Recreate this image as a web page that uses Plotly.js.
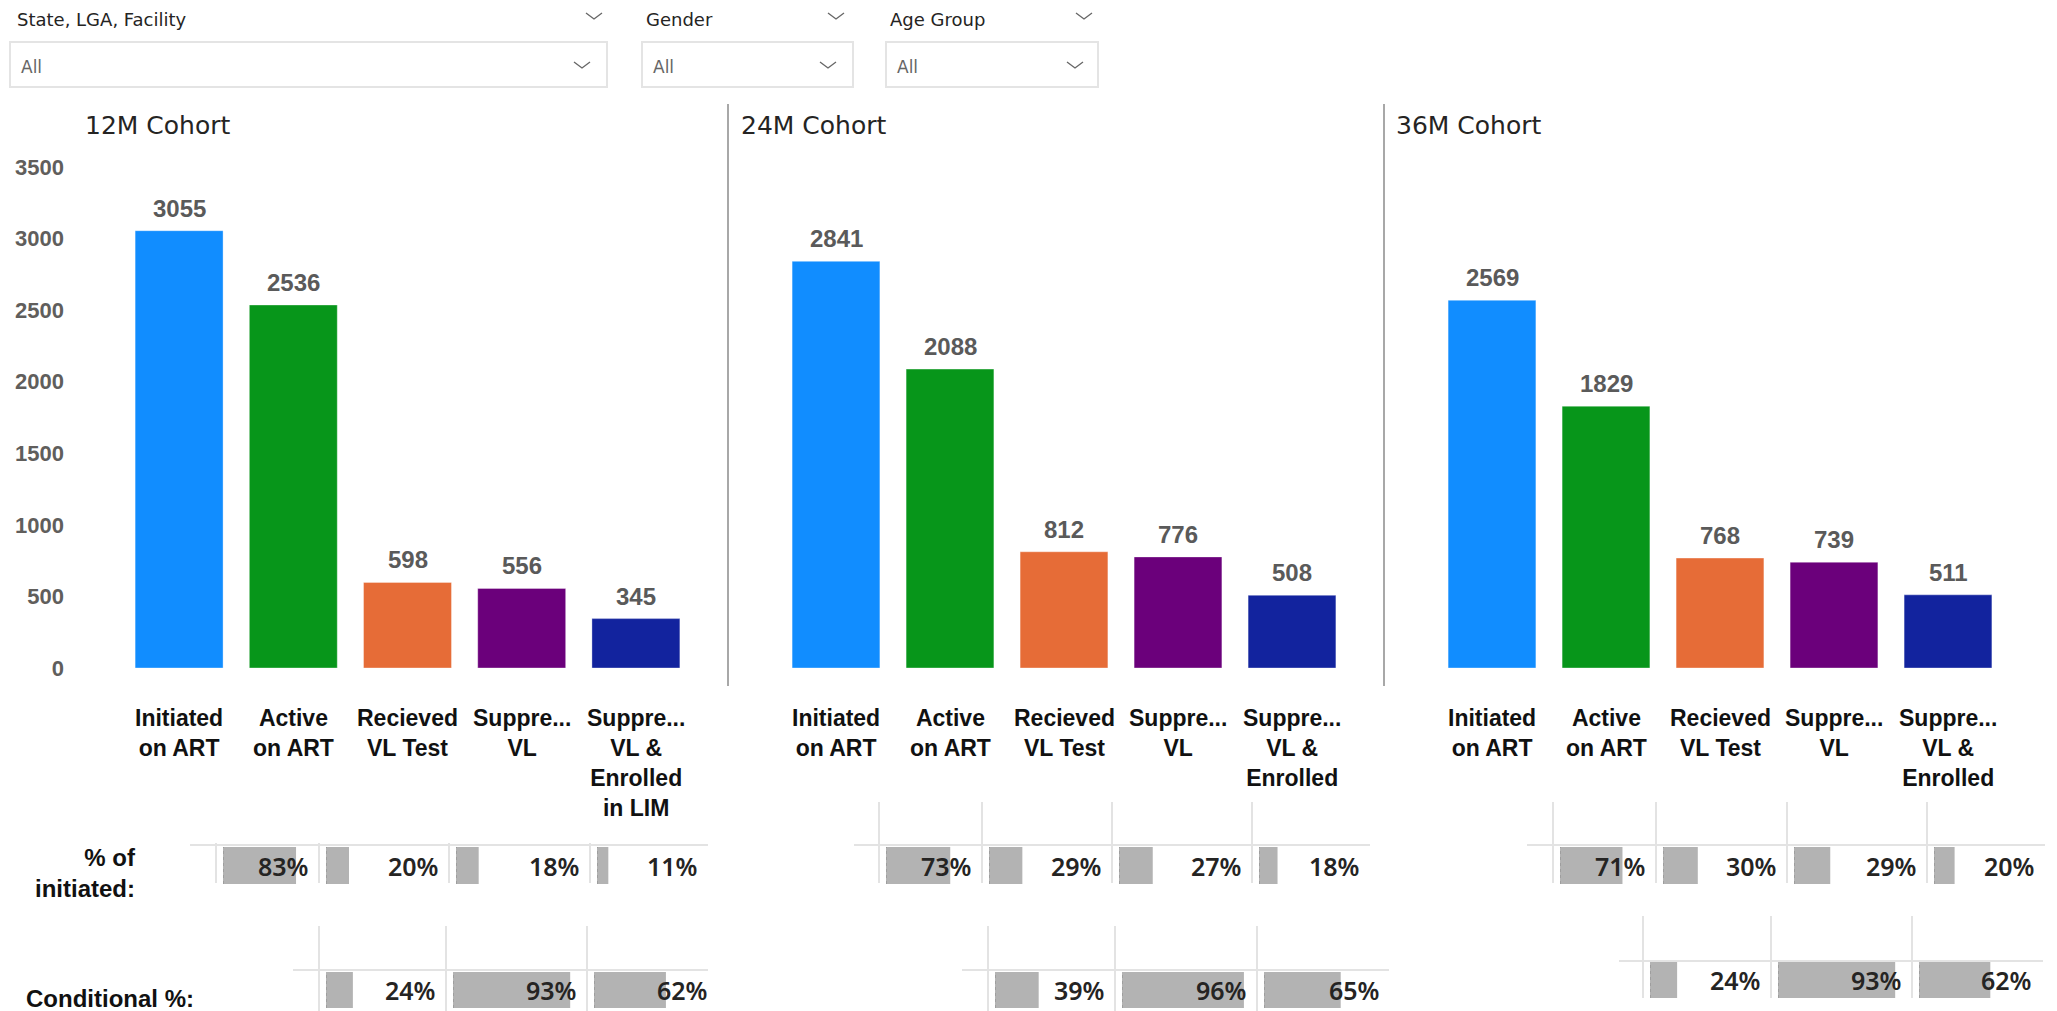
<!DOCTYPE html>
<html><head><meta charset="utf-8">
<script src="https://cdn.plot.ly/plotly-3.0.1.min.js"></script>
<style>html,body{margin:0;padding:0;background:#fff;overflow:hidden}#chart{width:2057px;height:1011px}</style>
</head><body><div id="chart"></div>
<script>
// ---------------- DATA ----------------
const stages = ["Initiated on ART","Active on ART","Recieved VL Test","Suppressed VL","Suppressed VL & Enrolled in LIM"];
const stageLabels12 = ["Initiated<br>on ART","Active<br>on ART","Recieved<br>VL Test","Suppre...<br>VL","Suppre...<br>VL &<br>Enrolled<br>in LIM"];
const stageLabels24 = ["Initiated<br>on ART","Active<br>on ART","Recieved<br>VL Test","Suppre...<br>VL","Suppre...<br>VL &<br>Enrolled"];
const stageLabels36 = ["Initiated<br>on ART","Active<br>on ART","Recieved<br>VL Test","Suppre...<br>VL","Suppre...<br>VL &<br>Enrolled"];
const cohortTitles = ["12M Cohort","24M Cohort","36M Cohort"];
const values12 = [3055, 2536, 598, 556, 345];
const values24 = [2841, 2088, 812, 776, 508];
const values36 = [2569, 1829, 768, 739, 511];
const pctOfInitiated12 = [0.83, 0.20, 0.18, 0.11];
const pctOfInitiated24 = [0.73, 0.29, 0.27, 0.18];
const pctOfInitiated36 = [0.71, 0.30, 0.29, 0.20];
const conditional12 = [0.24, 0.93, 0.62];
const conditional24 = [0.39, 0.96, 0.65];
const conditional36 = [0.24, 0.93, 0.62];
const yTickVals = [0, 500, 1000, 1500, 2000, 2500, 3000, 3500];
const rowLabelPct = "% of<br>initiated:";
const rowLabelCond = "Conditional %:";
const filterLabels = ["State, LGA, Facility", "Gender", "Age Group"];
const filterValues = ["All", "All", "All"];
const barColors = ["#118DFF", "#07961A", "#E66C37", "#6B007B", "#12239E"];

// ---------------- LAYOUT HELPERS ----------------
const W = 2057, H = 1011;
const px = x => x / W;
const py = y => 1 - y / H;

const panels = [
  {labels: stageLabels12, values: values12, pct: pctOfInitiated12, cond: conditional12, title: cohortTitles[0],
   xDom: [122, 693], titleX: 83, showY: true,
   pctCells: [[216,319],[319,449],[449,590],[590,708]], pctBar: [847,884], pctLine: [190,708,845], pctV: [216,319,449,590], pctVY: [843,883],
   condCells: [[319,446],[446,587],[587,718]], condBar: [972,1008], condLine: [293,708,970], condV: [319,446,587], condVY: [926,1011]},
  {labels: stageLabels24, values: values24, pct: pctOfInitiated24, cond: conditional24, title: cohortTitles[1],
   xDom: [779, 1349], titleX: 739, showY: false,
   pctCells: [[879,982],[982,1112],[1112,1252],[1252,1370]], pctBar: [847,884], pctLine: [854,1370,845], pctV: [879,982,1112,1252], pctVY: [802,883],
   condCells: [[988,1115],[1115,1257],[1257,1390]], condBar: [972,1008], condLine: [962,1389,970], condV: [988,1115,1257], condVY: [926,1011]},
  {labels: stageLabels36, values: values36, pct: pctOfInitiated36, cond: conditional36, title: cohortTitles[2],
   xDom: [1435, 2005], titleX: 1394, showY: false,
   pctCells: [[1553,1656],[1656,1787],[1787,1927],[1927,2045]], pctBar: [847,884], pctLine: [1527,2045,845], pctV: [1553,1656,1787,1927], pctVY: [802,883],
   condCells: [[1643,1771],[1771,1912],[1912,2042]], condBar: [962,998], condLine: [1619,2043,961], condV: [1643,1771,1912], condVY: [916,998]}
];

const traces = [];
const layout = {
  width: W, height: H, margin: {l:0, r:0, t:0, b:0},
  paper_bgcolor: "#ffffff", plot_bgcolor: "rgba(0,0,0,0)",
  showlegend: false, annotations: [], shapes: [],
  font: {family: "Liberation Sans, Arial, sans-serif", color: "#252423"}
};
let axN = 0;
const axKey = (p, n) => n === 1 ? p + "axis" : p + "axis" + n;
const axRef = (p, n) => n === 1 ? p : p + n;

const TXT = "Liberation Sans, Arial, sans-serif";
const PCT = "Noto Sans, Open Sans, sans-serif";
const TITLE = "DejaVu Sans, sans-serif";
const GRID = "#e3e3e3";

function hline(x0, x1, y, color, w) {
  layout.shapes.push({type: "line", xref: "paper", yref: "paper", x0: px(x0), x1: px(x1), y0: py(y), y1: py(y), line: {color: color, width: w}});
}
function vline(x, y0, y1, color, w) {
  layout.shapes.push({type: "line", xref: "paper", yref: "paper", x0: px(x), x1: px(x), y0: py(y0), y1: py(y1), line: {color: color, width: w}});
}

function cell(value, cellRange, barRange) {
  axN += 1;
  const n = axN;
  layout[axKey("x", n)] = {domain: [px(cellRange[0] + 7), px(cellRange[1] - 8)], range: [0, 1], visible: false, fixedrange: true, anchor: axRef("y", n)};
  layout[axKey("y", n)] = {domain: [py(barRange[1]), py(barRange[0])], range: [-0.5, 0.5], visible: false, fixedrange: true, anchor: axRef("x", n)};
  traces.push({type: "bar", orientation: "h", x: [value], y: [0], width: 1, marker: {color: "#b3b3b3"},
    xaxis: axRef("x", n), yaxis: axRef("y", n), hoverinfo: "skip"});
  layout.shapes.push({type: "line", xref: axRef("x", n), yref: axRef("y", n) + " domain", x0: 0, x1: 0, y0: 0, y1: 1,
    line: {color: "#8a8a8a", width: 1, dash: "dot"}});
  layout.annotations.push({xref: axRef("x", n) + " domain", yref: axRef("y", n) + " domain", x: 1, y: 0.5, xanchor: "right", yanchor: "middle",
    xshift: -1, yshift: 0, text: Math.round(value * 100) + "%", showarrow: false, font: {family: PCT, size: 25, color: "#252423", weight: 600}});
}

panels.forEach((p, idx) => {
  axN += 1;
  const n = axN;
  layout[axKey("x", n)] = {domain: [px(p.xDom[0]), px(p.xDom[1])], type: "category", range: [-0.5, 4.5],
    showticklabels: false, showgrid: false, zeroline: false, showline: false, ticks: "", fixedrange: true, anchor: axRef("y", n)};
  const ya = {domain: [py(668), py(167)], range: [0, 3500], showgrid: false, zeroline: false, showline: false, ticks: "", fixedrange: true,
    tickvals: yTickVals, ticktext: yTickVals.map(String), showticklabels: p.showY,
    tickfont: {family: TXT, size: 22, color: "#605E5C", weight: "bold"}};
  if (p.showY) { ya.anchor = "free"; ya.position = px(64); } else { ya.anchor = axRef("x", n); }
  layout[axKey("y", n)] = ya;
  traces.push({type: "bar", x: stages, y: p.values, width: 0.77,
    marker: {color: barColors, line: {color: "rgba(255,255,255,0.35)", width: 1}},
    xaxis: axRef("x", n), yaxis: axRef("y", n), hoverinfo: "skip"});
  p.values.forEach((v, i) => {
    layout.annotations.push({xref: axRef("x", n), yref: axRef("y", n), x: stages[i], y: v, yanchor: "bottom", yshift: 7,
      text: String(v), showarrow: false, font: {family: TXT, size: 24, color: "#5a5a5a", weight: "bold"}});
    layout.annotations.push({xref: axRef("x", n), yref: "paper", x: stages[i], y: py(703), yanchor: "top",
      text: p.labels[i], showarrow: false, align: "center", font: {family: TXT, size: 23, color: "#111111", weight: "bold"}});
  });
  layout.annotations.push({xref: "paper", yref: "paper", x: px(p.titleX), y: py(126), xanchor: "left", yanchor: "middle",
    text: p.title, showarrow: false, font: {family: TITLE, size: 25, color: "#252423"}});

  // table grid
  hline(p.pctLine[0], p.pctLine[1], p.pctLine[2], GRID, 2);
  p.pctV.forEach(x => vline(x, p.pctVY[0], p.pctVY[1], GRID, 2));
  hline(p.condLine[0], p.condLine[1], p.condLine[2], GRID, 2);
  p.condV.forEach(x => vline(x, p.condVY[0], p.condVY[1], GRID, 2));

  p.pct.forEach((v, i) => cell(v, p.pctCells[i], p.pctBar));
  p.cond.forEach((v, i) => cell(v, p.condCells[i], p.condBar));
});

// separators between cohorts
vline(728, 104, 686, "#a8a8a8", 2);
vline(1384, 104, 686, "#a8a8a8", 2);

// row labels
layout.annotations.push({xref: "paper", yref: "paper", x: px(138), y: py(873), xanchor: "right", yanchor: "middle", align: "right",
  text: rowLabelPct, showarrow: false, font: {family: TXT, size: 24, color: "#111111", weight: "bold"}});
layout.annotations.push({xref: "paper", yref: "paper", x: px(24), y: py(998), xanchor: "left", yanchor: "middle",
  text: rowLabelCond, showarrow: false, font: {family: TXT, size: 24, color: "#111111", weight: "bold"}});

// slicers
const slicers = [
  {lx: 15, chevTop: 594, box: [10, 607], chevBox: 582},
  {lx: 644, chevTop: 836, box: [642, 853], chevBox: 828},
  {lx: 888, chevTop: 1084, box: [886, 1098], chevBox: 1075}
];
function chevron(cx, cy) {
  const w = 8, h = 6;
  layout.shapes.push({type: "path", xref: "paper", yref: "paper",
    path: `M ${px(cx - w)} ${py(cy - h / 2)} L ${px(cx)} ${py(cy + h / 2)} L ${px(cx + w)} ${py(cy - h / 2)}`,
    line: {color: "#666666", width: 1.3}});
}
slicers.forEach((s, i) => {
  layout.annotations.push({xref: "paper", yref: "paper", x: px(s.lx), y: py(20), xanchor: "left", yanchor: "middle",
    text: filterLabels[i], showarrow: false, font: {family: TITLE, size: 18, color: "#252423"}});
  chevron(s.chevTop, 16);
  layout.shapes.push({type: "rect", xref: "paper", yref: "paper", x0: px(s.box[0]), x1: px(s.box[1]), y0: py(87), y1: py(42),
    line: {color: "#e4e4e4", width: 2}, fillcolor: "#ffffff"});
  layout.annotations.push({xref: "paper", yref: "paper", x: px(s.box[0] + 9), y: py(67), xanchor: "left", yanchor: "middle",
    text: filterValues[i], showarrow: false, font: {family: TITLE, size: 17, color: "#666666"}});
  chevron(s.chevBox, 65);
});

Plotly.newPlot("chart", traces, layout, {displayModeBar: false, staticPlot: true});
</script>
</body></html>
